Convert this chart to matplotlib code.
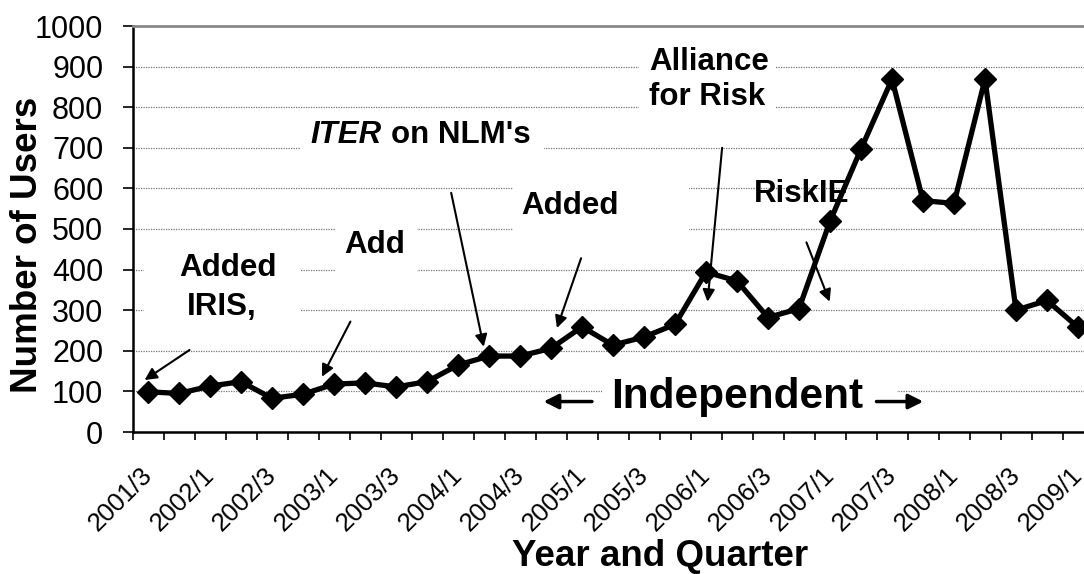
import numpy as np
import matplotlib
matplotlib.use("Agg")
import matplotlib.pyplot as plt
from matplotlib.patches import Rectangle
from matplotlib.transforms import ScaledTranslation

plt.rcParams['font.family'] = ['Liberation Sans', 'DejaVu Sans']

# quarterly data, 2001 Q3 .. 2009 Q1
quarters = ["2001/3", "2001/4",
            "2002/1", "2002/2", "2002/3", "2002/4",
            "2003/1", "2003/2", "2003/3", "2003/4",
            "2004/1", "2004/2", "2004/3", "2004/4",
            "2005/1", "2005/2", "2005/3", "2005/4",
            "2006/1", "2006/2", "2006/3", "2006/4",
            "2007/1", "2007/2", "2007/3", "2007/4",
            "2008/1", "2008/2", "2008/3", "2008/4",
            "2009/1"]
users = [99, 95, 113, 124, 83, 93, 118, 121, 111, 124,
         165, 187, 187, 206, 259, 214, 234, 265, 394, 372,
         282, 304, 519, 697, 869, 570, 563, 869, 300, 324, 258]

idx = np.arange(len(quarters))

fig = plt.figure(figsize=(10.84, 5.74), dpi=100)
# plot area runs a little past the right edge of the picture, as in the original
ax = fig.add_axes([132.5 / 1084, 1 - 432 / 574, 961 / 1084, 406 / 574])

ax.set_xlim(-0.5, len(quarters) - 0.5)
ax.set_ylim(0, 1000)

# grid + spines
ax.set_axisbelow(True)
ax.set_yticks(np.arange(0, 1001, 100))
ax.yaxis.grid(True, linestyle=(0, (1, 1)), color="#777777", lw=0.9)
ax.spines["right"].set_visible(False)
ax.spines["top"].set_color("#888888")
ax.spines["top"].set_linewidth(2)
ax.spines["left"].set_linewidth(1.8)
ax.spines["bottom"].set_linewidth(1.8)

ax.tick_params(axis="y", direction="out", length=7, width=1.2, pad=14, labelsize=22)
ax.set_xticks(np.arange(-0.5, len(quarters), 1))
ax.set_xticklabels([])
ax.tick_params(axis="x", which="major", direction="out", length=5.5, width=1.2)
ax.set_xticks(idx[::2], labels=quarters[::2], minor=True)
ax.tick_params(axis="x", which="minor", length=0, pad=22, labelsize=18.5)
for lab in ax.get_xticklabels(minor=True):
    lab.set_rotation(45)
    lab.set_ha("right")
    lab.set_transform(lab.get_transform() + ScaledTranslation(9 / 100, 0, fig.dpi_scale_trans))

# white boxes that hide the gridlines behind the notes
boxes = [(-0.13, 250, 5.07, 210), (6.05, 350, 2.64, 210), (4.92, 650, 7.84, 120),
         (11.77, 460, 5.68, 190), (15.84, 760, 4.42, 200), (14.66, 20, 9.51, 140)]
for bx, by, bw, bh in boxes:
    ax.add_patch(Rectangle((bx, by), bw, bh, facecolor="white", edgecolor="none", zorder=1.5))

ax.plot(idx, users, color="black", lw=3.8, marker="D", markersize=11, zorder=3)

bold = dict(fontsize=22.5, fontweight="bold", ha="center", va="center", zorder=4)
ax.text(2.58, 403, "Added", **bold)
ax.text(2.39, 309, "IRIS,", **bold)
ax.text(7.31, 461, "Add", **bold)
ax.text(7.55, 732, "ITER", fontsize=22.5, fontweight="bold", style="italic",
        ha="right", va="center", zorder=4)
ax.text(7.85, 732, "on NLM's", fontsize=22.5, fontweight="bold", ha="left", va="center", zorder=4)
ax.text(13.61, 557, "Added", **bold)
ax.text(18.1, 912, "Alliance", **bold)
ax.text(18.03, 825, "for Risk", **bold)
# RiskIE sits under the data line in the original
ax.text(21.07, 587, "RiskIE", fontsize=22.5, fontweight="bold", ha="center", va="center", zorder=2.5)
ax.text(19.0, 87, "Independent", fontsize=30.5, fontweight="bold", ha="center", va="center", zorder=4)

# arrows (tail -> tip)
arrows = [((1.34, 202), (-0.11, 128)), ((6.53, 272), (5.61, 136)),
          ((9.78, 589), (10.83, 210)), ((13.97, 428), (13.19, 256)),
          ((18.52, 700), (18.05, 321)), ((21.24, 467), (21.99, 321))]
for tail, tip in arrows:
    ax.annotate("", xy=tip, xytext=tail, zorder=4, annotation_clip=False,
                arrowprops=dict(arrowstyle="-|>", color="black", lw=1.5,
                                mutation_scale=18, shrinkA=0, shrinkB=0))
for tail, tip in [((14.32, 75), (12.76, 75)), ((23.5, 75), (25.01, 75))]:
    ax.annotate("", xy=tip, xytext=tail, zorder=4,
                arrowprops=dict(arrowstyle="-|>", color="black", lw=2.5,
                                mutation_scale=22, shrinkA=0, shrinkB=0))

fig.text(660 / 1084, 1 - 557 / 574, "Year and Quarter", fontsize=26.5, fontweight="bold",
         ha="center", va="center")
fig.text(28 / 1084, 1 - 245 / 574, "Number of Users", fontsize=26.5, fontweight="bold",
         ha="center", va="center", rotation=90)

fig.savefig("out.png", dpi=100)
